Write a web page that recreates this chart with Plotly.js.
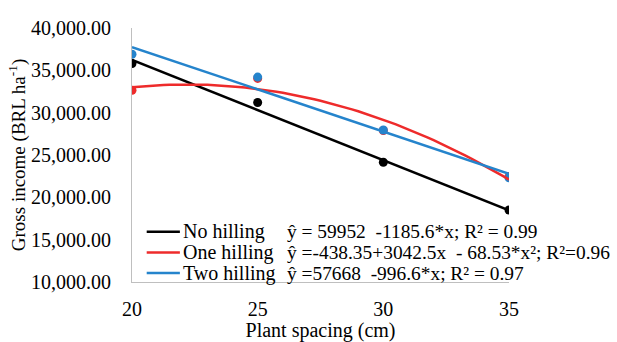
<!DOCTYPE html>
<html>
<head>
<meta charset="utf-8">
<script src="https://cdn.plot.ly/plotly-3.0.1.min.js"></script>
<style>html,body{margin:0;padding:0;background:#fff;}#chart{width:617px;height:342px;}</style>
</head>
<body>
<div id="chart"></div>
<script>
// Data
const spacing = [20, 25, 30, 35];
const noHilling = [35800, 31200, 24150, 18500];
const oneHilling = [32650, 34050, 27900, 22450];
const twoHilling = [36900, 34200, 27950, 22300];
const seriesNames = ['No hilling', 'One hilling', 'Two hilling'];
const equations = [
  'ŷ = 59952  -1185.6*x; R² = 0.99',
  'ŷ =-438.35+3042.5x  - 68.53*x²; R²=0.96',
  'ŷ =57668  -996.6*x; R² = 0.97'
];
// Trendline coefficients as printed on the chart (c0 + c1*x + c2*x^2)
const coefNo = [59952, -1185.6];
const coefOne = [-438.35, 3042.5, -68.53];
const coefTwo = [57668, -996.6];
const yTicks = [10000, 15000, 20000, 25000, 30000, 35000, 40000];
const xTicks = [20, 25, 30, 35];

const colors = ['#000000', '#ee2b2b', '#2584cc'];
const font = 'Times New Roman, Liberation Serif, serif';

function trend(coef) {
  const xs = [], ys = [];
  for (let x = spacing[0]; x <= spacing[spacing.length - 1] + 1e-9; x += 0.25) {
    xs.push(x);
    ys.push(coef.reduce((s, c, i) => s + c * Math.pow(x, i), 0));
  }
  return {x: xs, y: ys};
}

const values = [noHilling, oneHilling, twoHilling];
const coefs = [coefNo, coefOne, coefTwo];
const traces = [];
values.forEach((v, i) => {
  traces.push({x: spacing, y: v, mode: 'markers', type: 'scatter', name: seriesNames[i],
    marker: {color: colors[i], size: 9}, showlegend: false, hoverinfo: 'skip'});
});
coefs.forEach((c, i) => {
  const t = trend(c);
  traces.push({x: t.x, y: t.y, mode: 'lines', type: 'scatter', name: seriesNames[i] + ' trend',
    line: {color: colors[i], width: 2.5}, showlegend: false, hoverinfo: 'skip'});
});

const rowY = [0.198, 0.116, 0.035];
const shapes = [], annotations = [];
rowY.forEach((yy, i) => {
  shapes.push({type: 'line', xref: 'paper', yref: 'paper', x0: 0.039, x1: 0.127, y0: yy, y1: yy,
    line: {color: colors[i], width: 2.5}});
  annotations.push({xref: 'paper', yref: 'paper', x: 0.13, y: yy, xanchor: 'left', yanchor: 'middle',
    text: seriesNames[i], showarrow: false, font: {family: font, size: 20, color: '#000'}});
  annotations.push({xref: 'paper', yref: 'paper', x: 0.405, y: yy, xanchor: 'left', yanchor: 'middle',
    text: equations[i], showarrow: false, font: {family: font, size: 19.4, color: '#000'}});
});

const layout = {
  width: 617, height: 342,
  margin: {l: 132, r: 108, t: 28, b: 60},
  paper_bgcolor: '#fff', plot_bgcolor: '#fff',
  font: {family: font, size: 19, color: '#000'},
  showlegend: false,
  xaxis: {range: [20, 35], tickvals: xTicks, ticktext: xTicks.map(String), showgrid: false, zeroline: false,
    showline: true, linecolor: '#bfbfbf', linewidth: 1, ticks: 'outside', ticklen: 9, tickcolor: 'rgba(0,0,0,0)',
    tickfont: {family: font, size: 20, color: '#000'},
    title: {text: 'Plant spacing (cm)', font: {family: font, size: 20, color: '#000'}, standoff: 4}},
  yaxis: {range: [10000, 40000], tickvals: yTicks, ticktext: yTicks.map(v => v.toLocaleString('en-US', {minimumFractionDigits: 2})),
    showgrid: false, zeroline: false, showline: true, linecolor: '#bfbfbf', linewidth: 1,
    ticks: 'outside', ticklen: 16, tickcolor: 'rgba(0,0,0,0)',
    tickfont: {family: font, size: 20, color: '#000'},
    title: {text: 'Gross income (BRL ha<sup>-1</sup>)', font: {family: font, size: 19, color: '#000'}, standoff: 0}},
  shapes: shapes,
  annotations: annotations
};

Plotly.newPlot('chart', traces, layout, {staticPlot: true, displayModeBar: false});
</script>
</body>
</html>
